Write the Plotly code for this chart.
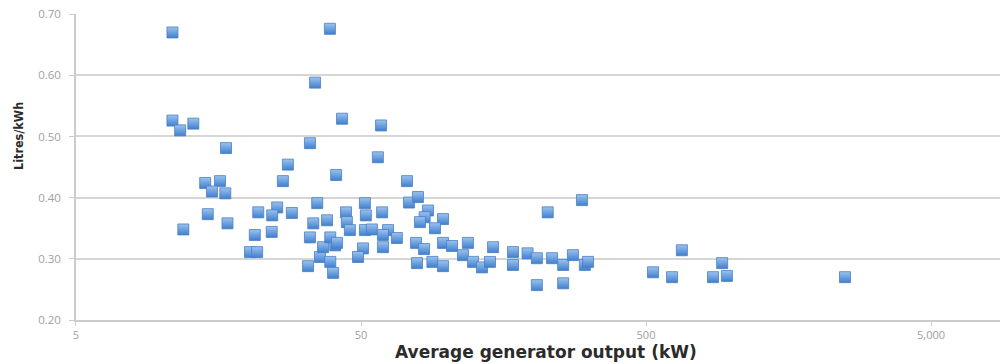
import plotly.graph_objects as go

# Average generator output (kW)
output_kw = [
    10.9, 38.9, 34.5, 10.9, 11.6, 12.9, 16.8, 33.1, 42.9, 58.8,
    57.3, 40.9, 27.7, 26.6, 72.5, 14.2, 16.0, 15.0, 16.7, 14.5,
    17.0, 11.9, 21.8, 25.4, 24.4, 28.6, 21.2, 24.3, 20.4, 21.6,
    35.1, 34.0, 33.1, 32.6, 38.0, 35.9, 36.8, 39.0, 39.9, 40.6,
    39.0, 41.2, 44.3, 44.6, 45.7, 51.6, 52.0, 51.6, 54.6, 50.8,
    48.8, 59.3, 62.2, 59.7, 66.8, 59.7, 73.7, 79.2, 85.9, 83.6,
    80.5, 97.0, 90.9, 78.0, 83.2, 78.6, 89.0, 97.0, 97.0, 104.3,
    118.6, 114.0, 123.6, 132.9, 141.8, 145.3, 170.7, 170.7, 192, 207,
    234, 256, 277, 305, 313, 207, 256, 226, 298, 529,
    668, 617, 925, 859, 961, 2495,
]
# Litres/kWh
litres_per_kwh = [
    0.670, 0.676, 0.588, 0.526, 0.510, 0.521, 0.481, 0.489, 0.529, 0.518,
    0.466, 0.437, 0.454, 0.427, 0.427, 0.424, 0.427, 0.410, 0.407, 0.373,
    0.358, 0.348, 0.376, 0.384, 0.371, 0.375, 0.339, 0.344, 0.311, 0.311,
    0.391, 0.358, 0.335, 0.288, 0.363, 0.303, 0.319, 0.295, 0.277, 0.322,
    0.335, 0.326, 0.376, 0.360, 0.347, 0.391, 0.371, 0.347, 0.348, 0.317,
    0.303, 0.376, 0.347, 0.339, 0.334, 0.319, 0.392, 0.401, 0.379, 0.368,
    0.360, 0.365, 0.350, 0.326, 0.316, 0.293, 0.295, 0.288, 0.326, 0.321,
    0.326, 0.306, 0.295, 0.286, 0.295, 0.319, 0.311, 0.290, 0.309, 0.301,
    0.301, 0.290, 0.306, 0.290, 0.295, 0.257, 0.260, 0.376, 0.396, 0.278,
    0.314, 0.270, 0.293, 0.270, 0.272, 0.270,
]

x_tickvals = [5, 50, 500, 5000]
x_ticktext = ["5", "50", "500", "5,000"]
y_tickvals = [0.20, 0.30, 0.40, 0.50, 0.60, 0.70]

fig = go.Figure()
fig.add_trace(go.Scatter(
    x=output_kw, y=litres_per_kwh, mode="markers",
    marker=dict(symbol="square", size=11, color="#9cc3ee",
                gradient=dict(type="vertical", color="#3f7fcf"),
                line=dict(color="#4a7fc4", width=0.8)),
    hoverinfo="x+y", showlegend=False,
))

# The page body has an 8px default margin, so the figure is 1000x356
PLOT_H = 356 - 6 - 44
PLOT_W = 1000 - 68
PLOT_LEFT = 76   # page px
PLOT_BOTTOM = 320  # page px

fig.update_layout(
    width=1000, height=356,
    margin=dict(l=68, r=0, t=6, b=44),
    paper_bgcolor="white", plot_bgcolor="white",
    font=dict(family="Open Sans, DejaVu Sans, sans-serif"),
    xaxis=dict(type="log", range=[0.699, 3.969], automargin=False,
               tickvals=x_tickvals, ticktext=x_ticktext,
               showgrid=False, zeroline=False,
               showline=True, linecolor="#cccccc", linewidth=1.5,
               ticks="outside", ticklen=4, tickcolor="#cccccc",
               tickfont=dict(size=11, color="#a0a0a0")),
    yaxis=dict(range=[0.20, 0.7002], tickvals=y_tickvals, tickformat=".2f",
               automargin=False,
               showgrid=True, gridcolor="#d6d6d6", gridwidth=1.5,
               zeroline=False, ticklabeloverflow="allow",
               showline=True, linecolor="#cccccc", linewidth=1.5,
               ticks="outside", ticklen=5, tickcolor="#cccccc",
               ticklabelstandoff=6,
               tickfont=dict(size=11.5, color="#a0a0a0")),
    annotations=[
        dict(text="Average generator output (kW)", xref="paper", yref="paper",
             x=(393 - PLOT_LEFT) / PLOT_W, y=-(352 - PLOT_BOTTOM) / PLOT_H,
             xanchor="left", yanchor="middle",
             showarrow=False,
             font=dict(size=17, color="#2b2b2b", weight="bold",
                       family="DejaVu Sans, sans-serif")),
        dict(text="Litres/kWh", xref="paper", yref="paper", textangle=-90,
             x=(19 - PLOT_LEFT) / PLOT_W, y=(PLOT_BOTTOM - 172) / PLOT_H,
             xanchor="center", yanchor="bottom",
             showarrow=False,
             font=dict(size=12.5, color="#2b2b2b", weight="bold",
                       family="DejaVu Sans Condensed, sans-serif")),
    ],
)

fig.write_html("out.html")
